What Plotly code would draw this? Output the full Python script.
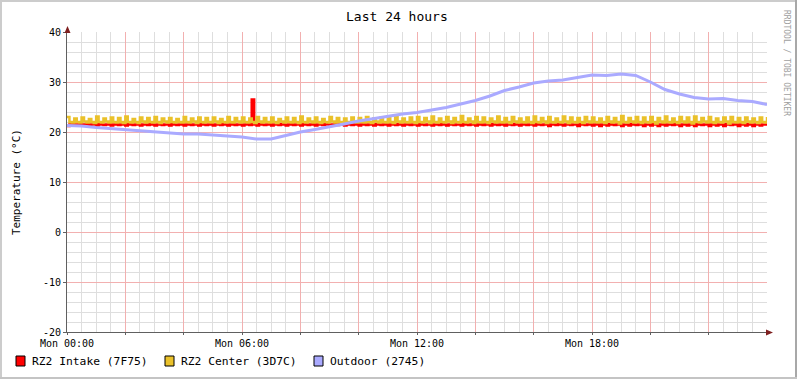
import plotly.graph_objects as go

# ---------------- data ----------------
tick_hours = [0, 2, 4, 6, 8, 10, 12, 14, 16, 18, 20, 22]
tick_labels = ["Mon 00:00", "", "", "Mon 06:00", "", "", "Mon 12:00", "", "", "Mon 18:00", "", ""]
y_ticks = [-20, -10, 0, 10, 20, 30, 40]
y_tick_labels = ["-20", "-10", "0", "10", "20", "30", "40"]

# 5-minute samples (hours)
step_hours = [i * 5 / 60 for i in range(289)]
# 30-minute samples (hours)
coarse_hours = [i * 0.5 for i in range(49)]

intake = [
    21.2, 21.5, 21.6, 21.4, 21.5, 21.6, 21.3, 21.5, 21.6, 21.4, 21.5, 21.5, 21.3, 21.6, 21.5, 21.4, 21.5, 21.6, 21.3, 21.5, 21.6, 21.4, 21.5, 21.5,
    21.3, 21.6, 21.5, 21.4, 21.5, 21.6, 21.3, 21.5, 21.5, 21.4, 21.6, 21.5, 21.3, 21.5, 21.6, 21.4, 21.5, 21.5, 21.3, 21.6, 21.5, 21.4, 21.5, 21.6,
    21.3, 21.5, 21.6, 21.4, 21.5, 21.5, 21.3, 21.6, 21.5, 21.4, 21.5, 21.6, 21.3, 21.5, 21.5, 21.4, 21.6, 21.5, 21.3, 21.5, 21.6, 21.4, 21.5, 21.5,
    21.3, 21.5, 21.6, 21.4, 26.5, 21.5, 21.3, 21.6, 21.5, 21.4, 21.5, 21.6, 21.3, 21.5, 21.5, 21.4, 21.6, 21.5, 21.3, 21.5, 21.6, 21.4, 21.5, 21.5,
    21.3, 21.6, 21.5, 21.4, 21.5, 21.6, 21.3, 21.5, 21.5, 21.4, 21.6, 21.5, 21.3, 21.5, 21.6, 21.4, 21.5, 21.5, 21.3, 21.6, 21.5, 21.4, 21.5, 21.6,
    21.3, 21.5, 21.6, 21.4, 21.5, 21.5, 21.3, 21.6, 21.5, 21.4, 21.5, 21.6, 21.3, 21.5, 21.5, 21.4, 21.6, 21.5, 21.3, 21.5, 21.6, 21.4, 21.5, 21.5,
    21.3, 21.6, 21.5, 21.4, 21.5, 21.6, 21.3, 21.5, 21.5, 21.4, 21.6, 21.5, 21.3, 21.5, 21.6, 21.4, 21.5, 21.5, 21.3, 21.6, 21.5, 21.4, 21.5, 21.6,
    21.3, 21.5, 21.6, 21.4, 21.5, 21.5, 21.3, 21.6, 21.5, 21.4, 21.5, 21.6, 21.3, 21.5, 21.5, 21.4, 21.6, 21.5, 21.3, 21.5, 21.6, 21.4, 21.5, 21.5,
    21.3, 21.6, 21.5, 21.4, 21.5, 21.6, 21.2, 21.5, 21.5, 21.4, 21.6, 21.5, 21.3, 21.5, 21.6, 21.4, 21.5, 21.5, 21.2, 21.6, 21.5, 21.4, 21.5, 21.6,
    21.3, 21.5, 21.6, 21.2, 21.5, 21.5, 21.3, 21.6, 21.5, 21.4, 21.5, 21.6, 21.2, 21.5, 21.5, 21.3, 21.6, 21.5, 21.4, 21.5, 21.6, 21.2, 21.5, 21.5,
    21.3, 21.6, 21.5, 21.2, 21.5, 21.6, 21.3, 21.5, 21.5, 21.4, 21.6, 21.5, 21.2, 21.5, 21.6, 21.3, 21.5, 21.5, 21.2, 21.6, 21.5, 21.4, 21.5, 21.6,
    21.2, 21.5, 21.6, 21.3, 21.5, 21.5, 21.2, 21.6, 21.5, 21.4, 21.5, 21.6, 21.2, 21.5, 21.5, 21.3, 21.6, 21.5, 21.2, 21.5, 21.6, 21.3, 21.5, 21.5,
    21.5,
]

center = [
    23.0, 22.0, 21.9, 22.7, 22.0, 21.9, 22.9, 22.1, 21.9, 22.6, 22.0, 21.8, 23.1, 22.0, 21.9, 22.7, 22.1, 21.9, 22.9, 22.0, 21.9, 22.8, 22.0, 21.8,
    23.1, 22.0, 21.9, 22.6, 22.0, 21.8, 22.9, 22.1, 21.9, 22.8, 22.0, 21.9, 23.0, 22.0, 21.8, 22.7, 22.1, 21.9, 22.8, 22.0, 21.9, 22.6, 22.0, 21.9,
    23.0, 22.0, 21.9, 22.7, 22.1, 21.8, 22.9, 22.0, 21.9, 22.8, 22.0, 21.9, 22.9, 22.1, 21.8, 22.6, 22.0, 21.9, 23.0, 22.0, 21.9, 22.8, 22.1, 21.9,
    22.9, 22.0, 21.9, 22.7, 22.0, 21.8, 23.0, 22.1, 21.9, 22.8, 22.0, 21.9, 22.9, 22.0, 21.8, 22.6, 22.1, 21.9, 22.9, 22.0, 21.9, 22.8, 22.0, 21.8,
    23.1, 22.0, 21.9, 22.7, 22.1, 21.9, 22.9, 22.0, 21.8, 22.6, 22.0, 21.9, 23.0, 22.1, 21.9, 22.8, 22.0, 21.8, 22.7, 22.0, 21.9, 22.9, 22.1, 21.9,
    22.8, 22.0, 21.9, 23.0, 22.0, 21.8, 22.7, 22.1, 21.9, 22.9, 22.0, 21.9, 22.8, 22.0, 21.8, 23.1, 22.1, 21.9, 22.7, 22.0, 21.9, 22.9, 22.0, 21.8,
    23.0, 22.0, 21.9, 22.8, 22.1, 21.8, 23.1, 22.0, 21.9, 22.7, 22.0, 21.9, 23.0, 22.1, 21.8, 22.8, 22.0, 21.9, 23.2, 22.0, 21.9, 22.7, 22.1, 21.8,
    23.0, 22.0, 21.9, 22.9, 22.0, 21.8, 22.7, 22.1, 21.9, 23.1, 22.0, 21.9, 22.8, 22.0, 21.8, 23.0, 22.1, 21.9, 22.7, 22.0, 21.9, 22.9, 22.0, 21.8,
    23.1, 22.0, 21.9, 22.8, 22.1, 21.8, 23.0, 22.0, 21.9, 22.7, 22.0, 21.9, 23.1, 22.1, 21.8, 22.9, 22.0, 21.9, 22.8, 22.0, 21.8, 23.0, 22.1, 21.9,
    22.9, 22.0, 21.9, 22.7, 22.0, 21.8, 23.0, 22.1, 21.9, 22.8, 22.0, 21.7, 23.2, 22.0, 21.9, 22.8, 22.1, 21.9, 23.0, 22.0, 21.8, 22.9, 22.0, 21.9,
    23.0, 22.0, 21.7, 22.8, 22.1, 21.9, 23.1, 22.0, 21.9, 22.7, 22.0, 21.8, 23.0, 22.1, 21.9, 22.9, 22.0, 21.7, 23.1, 22.0, 21.9, 22.8, 22.1, 21.9,
    23.0, 22.0, 21.8, 22.7, 22.0, 21.9, 22.9, 22.1, 21.7, 23.0, 22.0, 21.9, 22.8, 22.0, 21.8, 22.9, 22.1, 21.9, 22.7, 22.0, 21.8, 22.9, 22.0, 21.9,
    23.0,
]

outdoor = [
    21.3, 21.2, 20.9, 20.7, 20.4, 20.2, 20.0, 19.8, 19.6, 19.6, 19.4, 19.1, 19.0,
    18.6, 18.6, 19.3, 20.0, 20.5, 21.0, 21.6, 22.2, 22.7, 23.2, 23.6, 23.9,
    24.4, 24.9, 25.6, 26.3, 27.2, 28.3, 29.0, 29.8, 30.2, 30.4, 30.9, 31.4,
    31.3, 31.6, 31.3, 30.0, 28.5, 27.6, 26.9, 26.6, 26.7, 26.3, 26.1, 25.5,
]

names = ["RZ2 Intake (7F75)", "RZ2 Center (3D7C)", "Outdoor (2745)"]
colors = ["#FF0000", "#EAC12A", "#AAAAFF"]

# ---------------- layout helpers ----------------
W, H = 797, 379
L, R, T, B = 67, 767, 32, 332
FONT = "DejaVu Sans Mono"


def px(x):
    return (x - L) / (R - L)


def py(y):
    return (B - y) / (B - T)


fig = go.Figure()
fig.add_trace(go.Scatter(x=step_hours, y=intake, mode="lines", line=dict(color=colors[0], width=2.5, shape="hv"),
                         name=names[0], hoverinfo="skip"))
fig.add_trace(go.Scatter(x=step_hours, y=center, mode="lines", line=dict(color=colors[1], width=2.5, shape="hv"),
                         name=names[1], hoverinfo="skip"))
fig.add_trace(go.Scatter(x=coarse_hours, y=outdoor, mode="lines", line=dict(color=colors[2], width=3),
                         name=names[2], hoverinfo="skip"))

major = "#F2B0B0"
minorc = "#DEDEDE"
axisc = "#606060"

fig.update_layout(
    width=W, height=H, autosize=False,
    margin=dict(l=L, r=W - R, t=T, b=H - B, pad=0),
    paper_bgcolor="white", plot_bgcolor="white",
    showlegend=False,
    font=dict(family=FONT, size=10, color="#000000"),
    xaxis=dict(
        range=[0, 24], tickmode="array", tickvals=tick_hours, ticktext=tick_labels,
        showgrid=True, gridcolor=major, gridwidth=1,
        minor=dict(tickmode="linear", tick0=0, dtick=0.5, showgrid=True, gridcolor=minorc, gridwidth=1),
        showline=True, linecolor=axisc, linewidth=1, zeroline=False,
        ticks="outside", ticklen=2, tickcolor=axisc,
        tickfont=dict(family=FONT, size=10, color="#000000"),
        fixedrange=True,
    ),
    yaxis=dict(
        range=[-20, 40], tickmode="array", tickvals=y_ticks, ticktext=y_tick_labels,
        showgrid=True, gridcolor=major, gridwidth=1,
        minor=dict(tickmode="linear", tick0=0, dtick=2, showgrid=True, gridcolor=minorc, gridwidth=1),
        showline=True, linecolor=axisc, linewidth=1, zeroline=False,
        ticks="outside", ticklen=3, tickcolor=axisc,
        tickfont=dict(family=FONT, size=10, color="#000000"),
        fixedrange=True,
    ),
)

shapes = []
# outer frame
shapes.append(dict(type="rect", xref="paper", yref="paper", x0=px(0), x1=px(2), y0=py(H), y1=py(0),
                   fillcolor="#CCCCCC", line=dict(width=0), layer="above"))
shapes.append(dict(type="rect", xref="paper", yref="paper", x0=px(0), x1=px(W), y0=py(2), y1=py(0),
                   fillcolor="#CCCCCC", line=dict(width=0), layer="above"))
shapes.append(dict(type="rect", xref="paper", yref="paper", x0=px(W - 2), x1=px(W), y0=py(H), y1=py(0),
                   fillcolor="#A8A8A8", line=dict(width=0), layer="above"))
shapes.append(dict(type="rect", xref="paper", yref="paper", x0=px(0), x1=px(W), y0=py(H), y1=py(H - 2),
                   fillcolor="#C4C4C4", line=dict(width=0), layer="above"))
# axis arrows
arrowc = "#7F2020"
shapes.append(dict(type="path", xref="paper", yref="paper",
                   path=f"M {px(67.5)} {py(26)} L {px(64.5)} {py(33)} L {px(70.5)} {py(33)} Z",
                   fillcolor=arrowc, line=dict(width=0), layer="above"))
shapes.append(dict(type="path", xref="paper", yref="paper",
                   path=f"M {px(773)} {py(332.5)} L {px(766)} {py(329.5)} L {px(766)} {py(335.5)} Z",
                   fillcolor=arrowc, line=dict(width=0), layer="above"))
# legend squares
for sx, c in zip([16, 165, 314], colors):
    shapes.append(dict(type="rect", xref="paper", yref="paper", x0=px(sx), x1=px(sx + 9),
                       y0=py(366), y1=py(356), fillcolor=c, line=dict(color="#000000", width=1), layer="above"))
fig.update_layout(shapes=shapes)

ann = []
ann.append(dict(text="Last 24 hours", x=px(397), y=py(16), xref="paper", yref="paper",
                showarrow=False, xanchor="center", yanchor="middle",
                font=dict(family=FONT, size=13, color="#000000")))
ann.append(dict(text="Temperature (°C)", x=px(16), y=py(182), xref="paper", yref="paper",
                showarrow=False, xanchor="center", yanchor="middle", textangle=-90,
                font=dict(family=FONT, size=11, color="#000000")))
ann.append(dict(text="RRDTOOL / TOBI OETIKER", x=px(787), y=py(63), xref="paper", yref="paper",
                showarrow=False, xanchor="center", yanchor="middle", textangle=90,
                font=dict(family=FONT, size=8, color="#A0A0A0")))
for tx, n in zip([30, 179, 328], names):
    ann.append(dict(text=n, x=px(tx), y=py(361), xref="paper", yref="paper",
                    showarrow=False, xanchor="left", yanchor="middle",
                    font=dict(family=FONT, size=11.3, color="#000000")))
fig.update_layout(annotations=ann)

fig.write_html(
    "out.html",
    config={"displayModeBar": False},
    post_script="document.body.style.margin='0';document.body.style.padding='0';document.body.style.overflow='hidden';",
)
